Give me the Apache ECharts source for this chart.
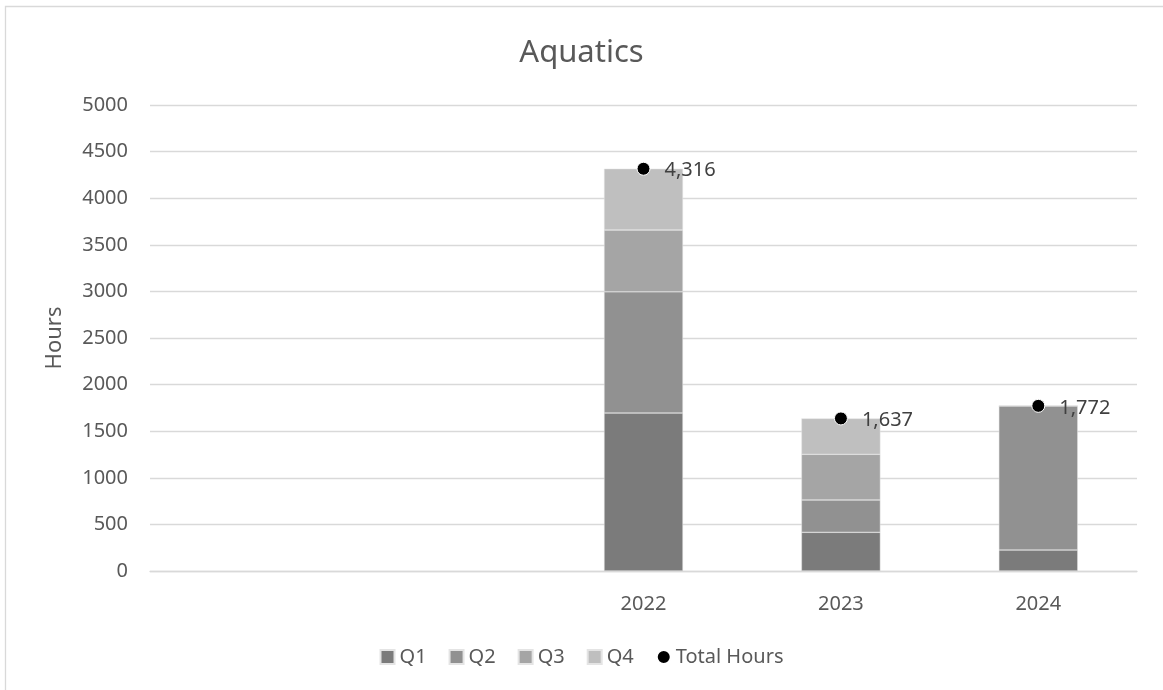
<!DOCTYPE html>
<html>
<head>
<meta charset="utf-8">
<script src="https://cdn.jsdelivr.net/npm/echarts@6/dist/echarts.min.js"></script>
<style>
  html, body { margin: 0; padding: 0; background: #fff; }
  #chart { width: 1163px; height: 690px; }
</style>
</head>
<body>
<div id="chart"></div>
<script>
// Yearly aquatics hours, split by quarter
const years = ['', '', '2022', '2023', '2024'];
const q1 = [null, null, 1695, 415, 225];
const q2 = [null, null, 1300, 347, 1547];
const q3 = [null, null, 663, 490, 0];
const q4 = [null, null, 658, 385, 0];
const totalHours = [null, null, 4316, 1637, 1772];
const yTicks = { min: 0, max: 5000, interval: 500 };

const FONT = '"Noto Sans", "Open Sans", sans-serif';
const TEXT = '#595959';

const barStyle = (color) => ({ color, borderColor: '#e4e4e4', borderWidth: 0.5 });

const chart = echarts.init(document.getElementById('chart'), null, { renderer: 'canvas' });
chart.setOption({
  backgroundColor: '#fff',
  animation: false,
  textStyle: { fontFamily: FONT },
  graphic: [{
    type: 'rect',
    shape: { x: 5.5, y: 6.5, width: 1300, height: 800 },
    style: { fill: 'none', stroke: '#d9d9d9', lineWidth: 1.3 },
    silent: true, z: -10
  }],
  title: {
    text: 'Aquatics',
    left: 'center',
    top: 33,
    textStyle: { color: TEXT, fontSize: 31, fontWeight: 'normal', fontFamily: FONT }
  },
  legend: {
    bottom: 18,
    left: 'center',
    itemWidth: 14,
    itemHeight: 14,
    itemGap: 22,
    textStyle: { color: TEXT, fontSize: 20, fontFamily: FONT },
    data: [
      { name: 'Q1', icon: 'rect' },
      { name: 'Q2', icon: 'rect' },
      { name: 'Q3', icon: 'rect' },
      { name: 'Q4', icon: 'rect' },
      { name: 'Total Hours', icon: 'circle' }
    ]
  },
  grid: { left: 150, right: 26, top: 105, bottom: 119, containLabel: false },
  xAxis: {
    type: 'category',
    data: years,
    axisLine: { lineStyle: { color: '#d9d9d9', width: 1.3 } },
    axisTick: { show: false },
    axisLabel: { color: TEXT, fontSize: 20, margin: 23, fontFamily: FONT }
  },
  yAxis: {
    type: 'value',
    min: yTicks.min,
    max: yTicks.max,
    interval: yTicks.interval,
    name: 'Hours',
    nameLocation: 'middle',
    nameGap: 84,
    nameRotate: 90,
    nameTextStyle: { color: TEXT, fontSize: 22, fontFamily: FONT },
    axisLine: { show: false },
    axisTick: { show: false },
    axisLabel: {
      color: TEXT, fontSize: 20, margin: 22, fontFamily: FONT,
      formatter: (v) => String(v)
    },
    splitLine: { lineStyle: { color: '#d9d9d9', width: 1.3 } }
  },
  series: [
    { name: 'Q1', type: 'bar', stack: 'hours', barWidth: '40%', data: q1, itemStyle: barStyle('#7b7b7b') },
    { name: 'Q2', type: 'bar', stack: 'hours', barWidth: '40%', data: q2, itemStyle: barStyle('#919191') },
    { name: 'Q3', type: 'bar', stack: 'hours', barWidth: '40%', data: q3, itemStyle: barStyle('#a5a5a5') },
    { name: 'Q4', type: 'bar', stack: 'hours', barWidth: '40%', data: q4, itemStyle: barStyle('#bfbfbf') },
    {
      name: 'Total Hours',
      type: 'scatter',
      data: totalHours,
      symbol: 'circle',
      symbolSize: 13,
      z: 5,
      itemStyle: { color: '#000', borderColor: '#fff', borderWidth: 1, opacity: 1 },
      label: {
        show: true,
        position: 'right',
        distance: 14,
        offset: [0, 2],
        color: '#404040',
        fontSize: 20,
        fontFamily: FONT,
        formatter: (p) => p.value == null ? '' : Number(p.value).toLocaleString('en-US')
      }
    }
  ]
});
</script>
</body>
</html>
